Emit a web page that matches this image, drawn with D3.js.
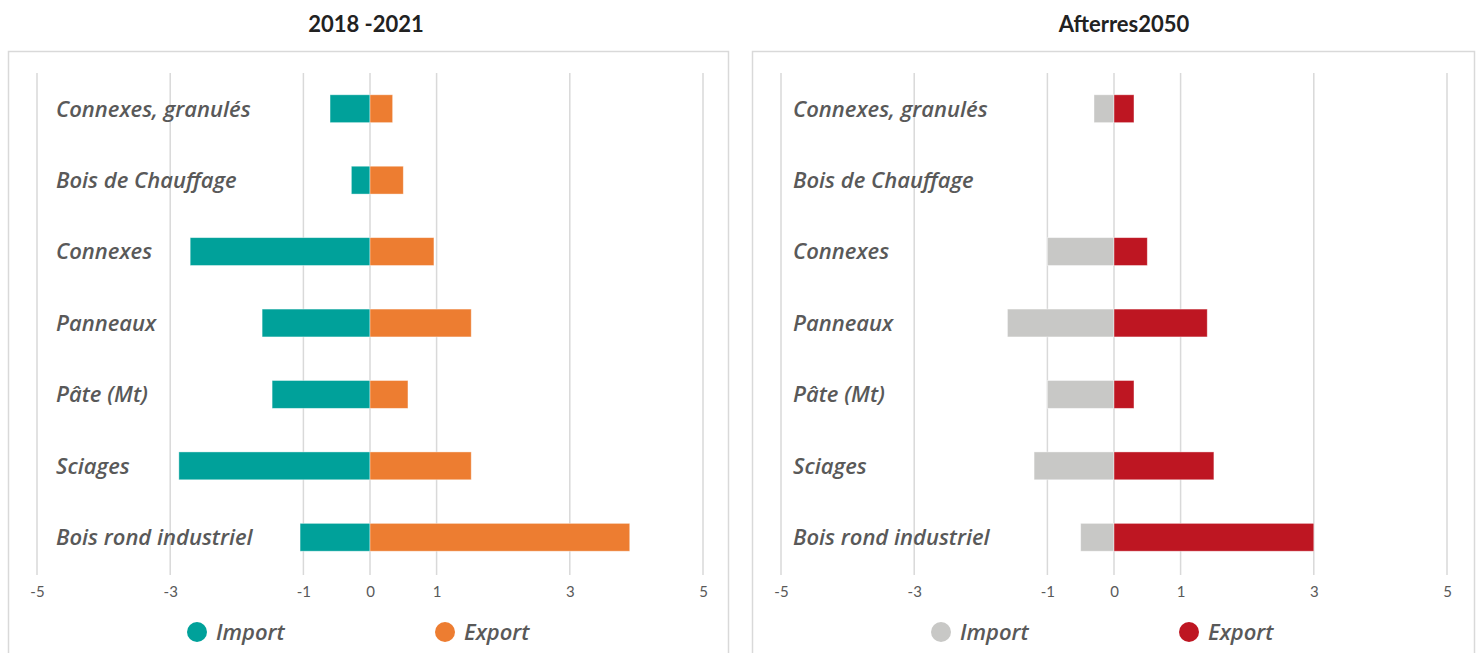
<!DOCTYPE html>
<html><head><meta charset="utf-8">
<script src="https://cdn.jsdelivr.net/npm/d3@7"></script>
<style>html,body{margin:0;padding:0;background:#fff;}svg{display:block;}</style>
</head><body>
<svg id="chart" width="1480" height="653"></svg>
<script>
const categories = ["Connexes, granulés","Bois de Chauffage","Connexes","Panneaux","Pâte (Mt)","Sciages","Bois rond industriel"];
const import2018 = [-0.6, -0.28, -2.7, -1.62, -1.47, -2.87, -1.05];
const export2018 = [0.34, 0.5, 0.96, 1.52, 0.57, 1.52, 3.9];
const import2050 = [-0.3, 0, -1.0, -1.6, -1.0, -1.2, -0.5];
const export2050 = [0.3, 0, 0.5, 1.4, 0.3, 1.5, 3.0];
const tickValues = [-5, -3, -1, 0, 1, 3, 5];
const seriesNames = ["Import", "Export"];

const svg = d3.select("#chart");
const font = "Lato, 'Open Sans', sans-serif";
const labFont = "'Open Sans', Lato, sans-serif";

const panels = [
  {title: "2018 -2021", frame: [8, 728], range: [37, 703], labelX: 56, titleX: 366,
   imp: import2018, exp: export2018, colors: ["#00A19A", "#ED7D31"]},
  {title: "Afterres2050", frame: [752, 1474], range: [781, 1447], labelX: 793, titleX: 1124,
   imp: import2050, exp: export2050, colors: ["#C8C8C6", "#BE1622"]}
];

const y = d3.scaleBand().domain(categories).range([73, 573]).paddingInner(0.61).paddingOuter(0.305);

panels.forEach(p => {
  const g = svg.append("g");
  g.append("rect").attr("x", p.frame[0] + 0.5).attr("y", 51.5)
    .attr("width", p.frame[1] - p.frame[0]).attr("height", 620)
    .attr("fill", "#fff").attr("stroke", "#d9d9d9").attr("stroke-width", 1.5);
  g.append("text").attr("x", p.titleX).attr("y", 32).attr("text-anchor", "middle")
    .attr("font-family", font).attr("font-weight", "bold").attr("font-size", 22)
    .attr("fill", "#222").text(p.title);

  const x = d3.scaleLinear().domain([-5, 5]).range(p.range);

  // gridlines
  g.selectAll(".grid").data(tickValues).join("line")
    .attr("x1", d => x(d)).attr("x2", d => x(d)).attr("y1", 73).attr("y2", 575)
    .attr("stroke", "#d9d9d9").attr("stroke-width", 1.5);

  // axis tick labels
  const axis = d3.axisBottom(x).tickValues(tickValues).tickSize(0).tickPadding(0).tickFormat(d => String(d));
  const ax = g.append("g").attr("transform", "translate(0,586)").call(axis);
  ax.select(".domain").remove();
  ax.selectAll("text").attr("font-family", font).attr("font-size", 15).attr("fill", "#595959").attr("dy", "0.71em");

  // bars
  const rows = categories.map((c, i) => ({c, imp: p.imp[i], exp: p.exp[i]}));
  g.selectAll(".imp").data(rows).join("rect")
    .attr("x", d => x(Math.min(0, d.imp))).attr("width", d => Math.abs(x(d.imp) - x(0)))
    .attr("y", d => y(d.c)).attr("height", y.bandwidth())
    .attr("fill", p.colors[0]).attr("stroke", "rgba(255,255,255,0.5)").attr("stroke-width", 0.8);
  g.selectAll(".exp").data(rows).join("rect")
    .attr("x", d => x(0)).attr("width", d => Math.abs(x(d.exp) - x(0)))
    .attr("y", d => y(d.c)).attr("height", y.bandwidth())
    .attr("fill", p.colors[1]).attr("stroke", "rgba(255,255,255,0.5)").attr("stroke-width", 0.8);

  // category labels
  g.selectAll(".lab").data(categories).join("text")
    .attr("x", p.labelX).attr("y", d => y(d) + y.bandwidth() / 2).attr("dy", "0.36em")
    .attr("font-family", labFont).attr("font-style", "italic").attr("font-weight", 600).attr("font-size", 22)
    .attr("fill", "#595959").text(d => d);

  // legend
  const legX = [x(0) - 173, x(0) + 75];
  seriesNames.forEach((s, i) => {
    g.append("circle").attr("cx", legX[i]).attr("cy", 632).attr("r", 10).attr("fill", p.colors[i]);
    g.append("text").attr("x", legX[i] + 19).attr("y", 632).attr("dy", "0.36em")
      .attr("font-family", labFont).attr("font-style", "italic").attr("font-weight", 600).attr("font-size", 22)
      .attr("fill", "#595959").text(s);
  });
});
</script>
</body></html>
